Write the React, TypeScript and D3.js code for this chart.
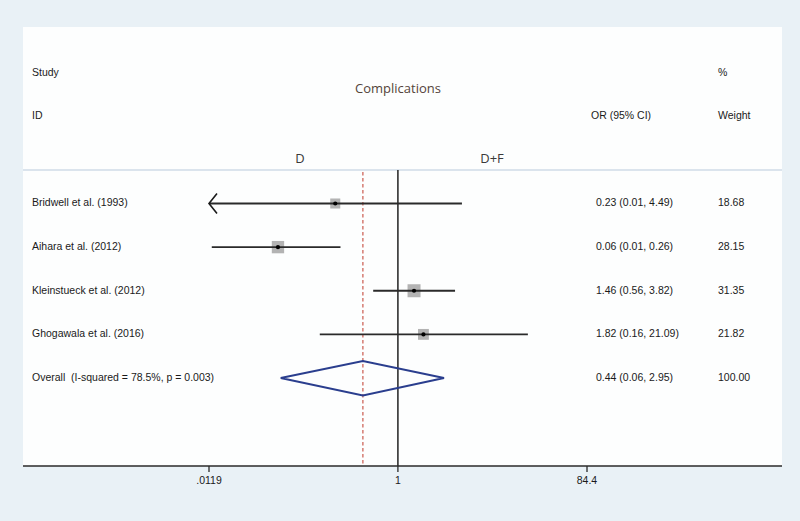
import React from "react";
import * as d3 from "d3";

const studies = [
  "Bridwell et al. (1993)",
  "Aihara et al. (2012)",
  "Kleinstueck et al. (2012)",
  "Ghogawala et al. (2016)",
];
const orValues = [0.23, 0.06, 1.46, 1.82];
const lowerValues = [0.01, 0.0127, 0.56, 0.16];
const upperValues = [4.49, 0.26, 3.82, 21.09];
const weights = [18.68, 28.15, 31.35, 21.82];
const ciLabels = [
  "0.23 (0.01, 4.49)",
  "0.06 (0.01, 0.26)",
  "1.46 (0.56, 3.82)",
  "1.82 (0.16, 21.09)",
];
const weightLabels = ["18.68", "28.15", "31.35", "21.82"];

const overallLabel = "Overall  (I-squared = 78.5%, p = 0.003)";
const overallOR = 0.44;
const overallLower = 0.064;
const overallUpper = 2.95;
const overallCI = "0.44 (0.06, 2.95)";
const overallWeight = "100.00";

const tickValues = [0.0119, 1, 84.4];
const tickLabels = [".0119", "1", "84.4"];

const W = 800;
const H = 521;
const font = "'Liberation Sans', Arial, sans-serif";
const titleFont = "'Open Sans', 'Noto Sans', sans-serif";

function T({ x, y, children, anchor = "start" }: any) {
  // slightly taller, condensed text like Stata's Helvetica
  return (
    <text
      transform={`translate(${x},${y}) scale(0.955,1)`}
      dominantBaseline="middle"
      textAnchor={anchor}
      fontFamily={font}
      fontSize={11}
      fill="#1a1a1a"
      style={{ whiteSpace: "pre" }}
    >
      {children}
    </text>
  );
}

export default function App() {
  const x = d3.scaleLog().domain([0.0119, 84.4]).range([209, 587]);
  const y = d3.scaleLinear().domain([0, 4]).range([203.5, 378]);
  const size = d3.scaleSqrt().domain([0, 31.35]).range([0, 13]);

  const panelLeft = 23;
  const panelRight = 782;
  const panelTop = 27;
  const axisY = 466;
  const headerLineY = 170;
  const xMin = x.domain()[0];
  const xMax = x.domain()[1];

  const dTop = y(4) - 17;
  const dBot = y(4) + 17.5;
  const diamond = [
    [x(overallLower), y(4)],
    [x(overallOR), dTop],
    [x(overallUpper), y(4)],
    [x(overallOR), dBot],
  ];

  return (
    <svg
      width={W}
      height={H}
      style={{ position: "absolute", left: 0, top: 0 }}
      xmlns="http://www.w3.org/2000/svg"
    >
      <rect x={0} y={0} width={W} height={H} fill="#e9f1f6" />
      <rect
        x={panelLeft}
        y={panelTop}
        width={panelRight - panelLeft}
        height={axisY - panelTop}
        fill="#fdfefe"
      />

      {/* headers */}
      <T x={32} y={73}>Study</T>
      <T x={32} y={116}>ID</T>
      <T x={591} y={116}>OR (95% CI)</T>
      <T x={718} y={73}>%</T>
      <T x={718} y={116}>Weight</T>
      <text
        x={398}
        y={90}
        textAnchor="middle"
        dominantBaseline="middle"
        fontFamily={titleFont}
        fontSize={13}
        fill="#54443a"
      >
        Complications
      </text>
      <g fontFamily={titleFont} fontSize={13} fill="#3a3a3a">
        <text x={300} y={160} textAnchor="middle" dominantBaseline="middle">D</text>
        <text x={492} y={160} textAnchor="middle" dominantBaseline="middle">D+F</text>
      </g>

      <line
        x1={panelLeft}
        x2={panelRight}
        y1={headerLineY}
        y2={headerLineY}
        stroke="#b9cadb"
        strokeWidth={1.2}
      />

      {/* reference lines */}
      <line
        x1={x(overallOR)}
        x2={x(overallOR)}
        y1={headerLineY + 2}
        y2={axisY}
        stroke="#c0392b"
        strokeWidth={1}
        strokeDasharray="3.5,2.5"
      />
      <line
        x1={x(1)}
        x2={x(1)}
        y1={headerLineY}
        y2={axisY}
        stroke="#222"
        strokeWidth={1.5}
      />

      {/* studies */}
      {studies.map((s, i) => {
        const yy = y(i);
        const lo = Math.max(lowerValues[i], xMin);
        const hi = Math.min(upperValues[i], xMax);
        const s2 = size(weights[i]);
        return (
          <g key={s}>
            <T x={32} y={yy}>{s}</T>
            <rect
              x={x(orValues[i]) - s2 / 2}
              y={yy - s2 / 2}
              width={s2}
              height={s2}
              fill="#b3b3b3"
            />
            <line
              x1={x(lo)}
              x2={x(hi)}
              y1={yy}
              y2={yy}
              stroke="#2a2a2a"
              strokeWidth={1.8}
            />
            {lowerValues[i] < xMin && (
              <path
                d={`M${x(lo) + 8},${yy - 10} L${x(lo)},${yy} L${x(lo) + 8},${yy + 10}`}
                fill="none"
                stroke="#1a1a1a"
                strokeWidth={1.6}
              />
            )}
            <circle cx={x(orValues[i])} cy={yy} r={2.1} fill="#000" />
            <T x={596} y={yy}>{ciLabels[i]}</T>
            <T x={718} y={yy}>{weightLabels[i]}</T>
          </g>
        );
      })}

      {/* overall */}
      <T x={32} y={y(4)}>{overallLabel}</T>
      <polygon
        points={diamond.map((p) => p.join(",")).join(" ")}
        fill="none"
        stroke="#2a3e8e"
        strokeWidth={1.8}
      />
      <T x={596} y={y(4)}>{overallCI}</T>
      <T x={718} y={y(4)}>{overallWeight}</T>

      {/* axis */}
      <line
        x1={panelLeft}
        x2={panelRight}
        y1={axisY}
        y2={axisY}
        stroke="#2a2a2a"
        strokeWidth={1.5}
      />
      {tickValues.map((t, i) => (
        <g key={t}>
          <line
            x1={x(t)}
            x2={x(t)}
            y1={axisY}
            y2={axisY + 6}
            stroke="#2a2a2a"
            strokeWidth={1.3}
          />
          <T x={x(t)} y={axisY + 15} anchor="middle">{tickLabels[i]}</T>
        </g>
      ))}
    </svg>
  );
}
